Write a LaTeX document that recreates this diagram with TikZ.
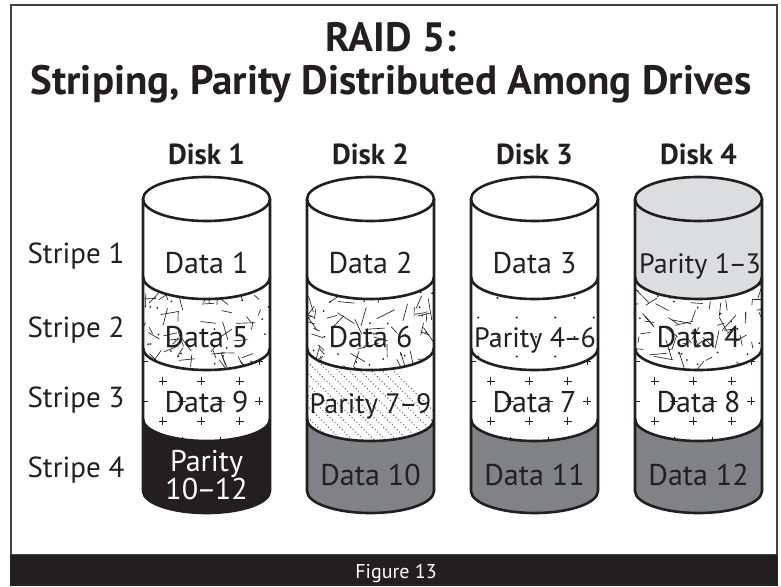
\documentclass[tikz,border=0pt]{standalone}
\usepackage{fontspec}
\setmainfont{PT Sans}
\definecolor{ink}{HTML}{231F20}
\definecolor{lgray}{HTML}{DCDDDE}
\definecolor{mgray}{HTML}{808285}
\newcommand\dsh{\kern-1.5pt–\kern-1.5pt}
\newcommand\segpathfill[4]{\fill[#4] (#1-63.5,#2) arc[start angle=180,end angle=360,x radius=63.5pt,y radius=22pt] -- (#1+63.5,#3) arc[start angle=0,end angle=-180,x radius=63.5pt,y radius=22pt] -- cycle;}
\newcommand\segclip[3]{\clip (#1-63.5,#2) arc[start angle=180,end angle=360,x radius=63.5pt,y radius=22pt] -- (#1+63.5,#3) arc[start angle=0,end angle=-180,x radius=63.5pt,y radius=22pt] -- cycle;}
\newcommand\confetti[4]{%
  \begin{scope}
  \segclip{#1}{#2}{#3}
  \pgfmathsetseed{#4}
  \foreach \i in {1,...,80}{
    \pgfmathsetmacro\ax{#1-72+144*rnd}
    \pgfmathsetmacro\ay{#2-6+108*rnd}
    \pgfmathsetmacro\an{360*rnd}
    \pgfmathsetmacro\ln{6+16*rnd}
    \draw[ink,line width=0.65pt] (\ax,\ay) -- ++(\an:\ln pt);
  }
  \foreach \i in {1,...,28}{
    \pgfmathsetmacro\ax{#1-64+128*rnd}
    \pgfmathsetmacro\ay{#2+104*rnd}
    \fill[ink] (\ax,\ay) circle[radius=1pt];
  }
  \end{scope}}
\newcommand\plusgrid[3]{%
  \begin{scope}
  \segclip{#1}{#2}{#3}
  \foreach \r in {0,...,5}{
    \foreach \c in {-3,...,3}{
      \pgfmathsetmacro\px{#1-24.5+\c*38.5+mod(\r+1,2)*19.25}
      \pgfmathsetmacro\py{#2+13+(\r-1)*20}
      \draw[ink,line width=0.6pt] (\px-4,\py) -- (\px+4,\py) (\px,\py-4) -- (\px,\py+4);
    }}
  \end{scope}}
\newcommand\dotgrid[3]{%
  \begin{scope}
  \segclip{#1}{#2}{#3}
  \foreach \r in {0,...,5}{
    \foreach \c in {-3,...,3}{
      \pgfmathsetmacro\px{#1+1.5+\c*38.5+mod(\r,2)*19.25}
      \pgfmathsetmacro\py{#2+21+\r*19.5}
      \fill[ink] (\px,\py) circle[radius=1.2pt];
    }}
  \end{scope}}
\newcommand\diagdots[3]{%
  \begin{scope}
  \segclip{#1}{#2}{#3}
  \foreach \k in {-12,...,14}{
    \draw[ink,line width=0.8pt,dash pattern=on 0.8pt off 2.6pt] (#1-64+\k*11-100,#2-10) -- ++(200,200);
  }
  \end{scope}}
\newcommand\cyloutline[1]{%
  \draw[cyl] (#1-63.5,199) -- (#1-63.5,491) arc[start angle=180,end angle=360,x radius=63.5pt,y radius=22pt] -- (#1+63.5,199);
  \draw[cyl] (#1,199) ellipse[x radius=63.5pt,y radius=22pt];
  \foreach \b in {277,348,419}{
    \draw[cyl] (#1-63.5,\b) arc[start angle=180,end angle=360,x radius=63.5pt,y radius=22pt];
  }}
\begin{document}
\begin{tikzpicture}[x=1pt,y=-1pt,
  cyl/.style={ink,line width=2.6pt,line join=round},
  lab/.style={font=\fontsize{30}{32}\selectfont,text=ink,anchor=base,inner sep=0pt},
  parlab/.style={font=\fontsize{28}{30}\selectfont,text=ink,anchor=base,inner sep=0pt},
  stripelab/.style={font=\fontsize{29}{32}\selectfont,text=ink,anchor=base,inner sep=0pt},
  disklab/.style={font=\bfseries\fontsize{29}{32}\selectfont,text=ink,anchor=base,inner sep=0pt},
  titlelab/.style={font=\bfseries\fontsize{41}{44}\selectfont,text=ink,anchor=base,inner sep=0pt}]
\useasboundingbox (0,0) rectangle (781,586);
% frame and caption bar
\draw[ink!85,line width=1.4pt] (11,5) rectangle (777,555);
\fill[ink] (10,555) rectangle (778,586);
\node[font=\fontsize{20}{22}\selectfont,text=white,anchor=base,inner sep=0pt] (fig) at (396,578) {Figure 13};
% title
\node[titlelab] (t1) at (391,52) {RAID 5:};
\node[titlelab] (t2) at (391,94) {Striping, Parity Distributed Among Drives};
% disk labels
\node[disklab] (d1) at (206.5,164) {Disk 1};
\node[disklab] (d2) at (370.5,164) {Disk 2};
\node[disklab] (d3) at (534.5,164) {Disk 3};
\node[disklab] (d4) at (698.5,164) {Disk 4};
% stripe labels
\node[stripelab] (s1) at (76,263) {Stripe 1};
\node[stripelab] (s2) at (76,337) {Stripe 2};
\node[stripelab] (s3) at (76,407) {Stripe 3};
\node[stripelab] (s4) at (76,477) {Stripe 4};
% ---------- Disk 1
\fill[white] (206.5,199) ellipse[x radius=63.5pt,y radius=22pt];
\segpathfill{206.5}{199}{277}{white}
\segpathfill{206.5}{277}{348}{white}
\confetti{206.5}{277}{348}{11}
\segpathfill{206.5}{348}{419}{white}
\plusgrid{206.5}{348}{419}
\segpathfill{206.5}{419}{491}{ink}
\cyloutline{206.5}
% ---------- Disk 2
\fill[white] (370.5,199) ellipse[x radius=63.5pt,y radius=22pt];
\segpathfill{370.5}{199}{277}{white}
\segpathfill{370.5}{277}{348}{white}
\confetti{370.5}{277}{348}{23}
\segpathfill{370.5}{348}{419}{white}
\diagdots{370.5}{348}{419}
\segpathfill{370.5}{419}{491}{mgray}
\cyloutline{370.5}
% ---------- Disk 3
\fill[white] (534.5,199) ellipse[x radius=63.5pt,y radius=22pt];
\segpathfill{534.5}{199}{277}{white}
\segpathfill{534.5}{277}{348}{white}
\dotgrid{534.5}{277}{348}
\segpathfill{534.5}{348}{419}{white}
\plusgrid{534.5}{348}{419}
\segpathfill{534.5}{419}{491}{mgray}
\cyloutline{534.5}
% ---------- Disk 4
\fill[lgray] (698.5,199) ellipse[x radius=63.5pt,y radius=22pt];
\segpathfill{698.5}{199}{277}{lgray}
\segpathfill{698.5}{277}{348}{white}
\confetti{698.5}{277}{348}{37}
\segpathfill{698.5}{348}{419}{white}
\plusgrid{698.5}{348}{419}
\segpathfill{698.5}{419}{491}{mgray}
\cyloutline{698.5}
% segment texts
\node[lab] (a1) at (206.5,273) {Data 1};
\node[lab] (a2) at (370.5,273) {Data 2};
\node[lab] (a3) at (534.5,273) {Data 3};
\node[parlab] (a4) at (700,273) {Parity 1\dsh3};
\node[lab] (b1) at (206.5,347) {Data 5};
\node[lab] (b2) at (370.5,347) {Data 6};
\node[parlab] (b3) at (535,347) {Parity 4\dsh6};
\node[lab] (b4) at (698.5,347) {Data 4};
\node[lab] (c1) at (206.5,412) {Data 9};
\node[parlab] (c2) at (370.5,413) {Parity 7\dsh9};
\node[lab] (c3) at (534.5,412) {Data 7};
\node[lab] (c4) at (698.5,412) {Data 8};
\node[lab,text=white] (e1a) at (206.5,471) {Parity};
\node[lab,text=white] (e1b) at (206.5,499) {10\dsh12};
\node[lab] (e2) at (370.5,485) {Data 10};
\node[lab] (e3) at (534.5,485) {Data 11};
\node[lab] (e4) at (698.5,485) {Data 12};
\end{tikzpicture}
\end{document}
